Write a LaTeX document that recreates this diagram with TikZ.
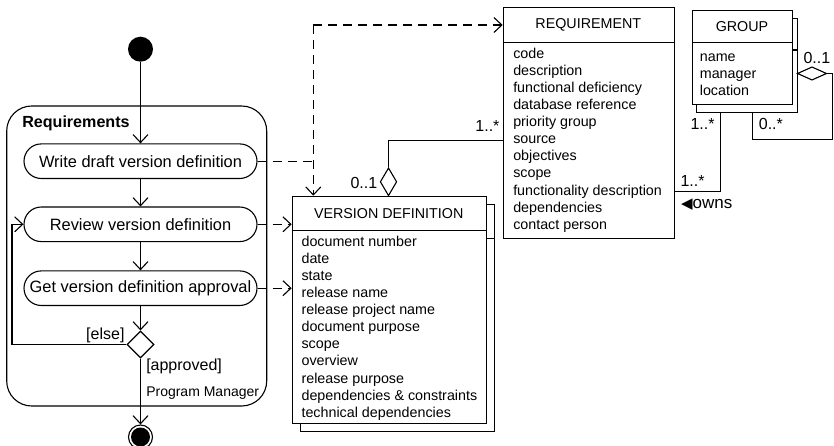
\documentclass[tikz,border=0pt]{standalone}
\usepackage{fontspec}
\setmainfont{Liberation Sans}
\newfontfamily\symfont{DejaVu Sans}
\usetikzlibrary{arrows.meta,shapes.geometric}

\begin{document}
\begin{tikzpicture}[x=1pt,y=-1pt,
  line width=1.1pt,
  flow/.style={-{Straight Barb[length=8pt,width=15pt]}},
  dep/.style={dash pattern=on 9pt off 6pt},
  pill/.style={draw, rounded corners=17.3pt, minimum width=233pt,
    minimum height=34.6pt, inner sep=0pt, font=\fontsize{16.4}{19}\selectfont},
  classbox/.style={draw, fill=white, inner sep=0pt, anchor=north west},
  ctitle/.style={font=\fontsize{14.3}{17}\selectfont, inner sep=0pt},
  attr/.style={font=\fontsize{14.3}{17}\selectfont, inner sep=0pt, anchor=base west},
  mult/.style={font=\fontsize{16}{19}\selectfont, inner sep=0pt},
  guard/.style={font=\fontsize{16}{19}\selectfont, inner sep=0pt},
  aggr/.style={draw, fill=white, shape=diamond, inner sep=0pt},
]
\useasboundingbox (0,0) rectangle (834,446);

% ---------------- activity: Requirements ----------------
\draw[rounded corners=25pt] (6.7,106) rectangle (266.7,406);
\node[font=\bfseries\fontsize{16.1}{19}\selectfont, inner sep=0pt, anchor=base west]
  (partlbl) at (21.7,127.7) {Requirements};

\node[circle, fill=black, minimum size=25pt, inner sep=0pt] (start) at (140.5,49.2) {};
\node[pill] (write)   at (140.5,161.2) {Write draft version definition};
\node[pill] (review)  at (140.5,224.3) {Review version definition};
\node[pill] (approve) at (140.5,288.2) {Get version definition approval};
\node[aggr, minimum width=27pt, minimum height=27pt] (dec) at (140.5,344.5) {};
\node[circle, draw, minimum size=24pt, inner sep=0pt] (end) at (140.5,437) {};
\node[circle, fill=black, minimum size=19pt, inner sep=0pt] (endin) at (end.center) {};
\coordinate (loop) at (12,344.5);

\draw[flow] (start) -- (write);
\draw[flow] (write) -- (review);
\draw[flow] (review) -- (approve);
\draw[flow] (approve) -- (dec);
\draw[flow] (dec.west) -- (loop) |- (review.west);
\draw[flow] (dec.south) -- (end.north);

\node[guard, anchor=base east] (else) at (125,339.5) {[else]};
\node[guard, anchor=base west] (appr) at (145.7,370) {[approved]};
\node[font=\fontsize{14}{17}\selectfont, inner sep=0pt, anchor=base west]
  (pm) at (145.7,396.5) {Program Manager};

% ---------------- class: VERSION DEFINITION ----------------
\node[classbox, minimum width=194pt, minimum height=227.3pt] (vdb) at (300.1,203.7) {};
\draw (300.1,238.7) -- ++(194,0);
\node[classbox, minimum width=194pt, minimum height=227.3pt] (vd) at (291.7,195.7) {};
\draw (291.7,230.7) -- ++(194,0);
\node[ctitle] (vdt) at (388.7,213.2) {VERSION DEFINITION};
\foreach \t [count=\i] in {document number, date, state, release name,
  release project name, document purpose, scope, overview, release purpose,
  dependencies \& constraints, technical dependencies}
  \node[attr] (vda\i) at (301,{246+17.13*(\i-1)}) {\t};

% ---------------- class: REQUIREMENT ----------------
\node[classbox, minimum width=171.3pt, minimum height=231pt] (req) at (502.7,7.3) {};
\draw (502.7,42.7) -- ++(171.3,0);
\node[ctitle] (reqt) at (588.3,25) {REQUIREMENT};
\foreach \t [count=\i] in {code, description, functional deficiency,
  database reference, priority group, source, objectives, scope,
  functionality description, dependencies, contact person}
  \node[attr] (reqa\i) at (512.7,{58.3+17.1*(\i-1)}) {\t};

% ---------------- class: GROUP ----------------
\node[classbox, minimum width=100.6pt, minimum height=94pt] (grpb) at (696.1,18) {};
\draw (696.1,50) -- ++(100.6,0);
\node[classbox, minimum width=100.6pt, minimum height=94pt] (grp) at (691.7,10.3) {};
\draw (691.7,42.3) -- ++(100.6,0);
\node[ctitle] (grpt) at (742,26.3) {GROUP};
\foreach \t [count=\i] in {name, manager, location}
  \node[attr] (grpa\i) at (699.3,{61.7+16.7*(\i-1)}) {\t};

% ---------------- dependencies from the actions ----------------
\coordinate (jmid) at (313.3,161.2);
\coordinate (jtop) at (313.3,25);
\draw[dep] (write.east) -- (jmid);
\draw[dep,flow] (jtop) -- (jtop |- vd.north);
\draw[dep,flow] (jtop) -- (jtop -| req.west);
\draw[dep,flow] (review.east) -- (review.east -| vd.west);
\draw[dep,flow] (approve.east) -- (approve.east -| vd.west);

% ---------------- associations ----------------
\node[aggr, minimum width=16.6pt, minimum height=28pt] (vdagg) at (388.5,181.8) {};
\draw (vdagg.north) |- (req.west |- 0,140.5);
\node[mult, anchor=base east] (m1) at (500,131.7) {1..*};
\node[mult, anchor=base west] (m2) at (350,188.3) {0..1};

\coordinate (ownx) at (720.5,191.5);
\draw (req.east |- ownx) -- (ownx) -- (ownx |- grpb.south);
\node[mult, anchor=base west] (m3) at (680,186.7) {1..*};
\node[mult, anchor=base west] (m4) at (690,130) {1..*};
\node[inner sep=0pt, anchor=base west] (owns) at (680.5,208.3)
  {{\symfont\fontsize{15}{17}\selectfont ◀}{\fontsize{17}{20}\selectfont owns}};

\node[aggr, minimum width=29.4pt, minimum height=13.4pt] (gagg) at (812,73.5) {};
\coordinate (sl1) at (832.5,73.5);
\coordinate (sl2) at (752.5,139.5);
\draw (gagg.east) -- (sl1) |- (sl2) -- (sl2 |- grpb.south);
\node[mult, anchor=base west] (m5) at (758.3,130) {0..*};
\node[mult, anchor=base west] (m6) at (803,64) {0..1};
\end{tikzpicture}
\end{document}
